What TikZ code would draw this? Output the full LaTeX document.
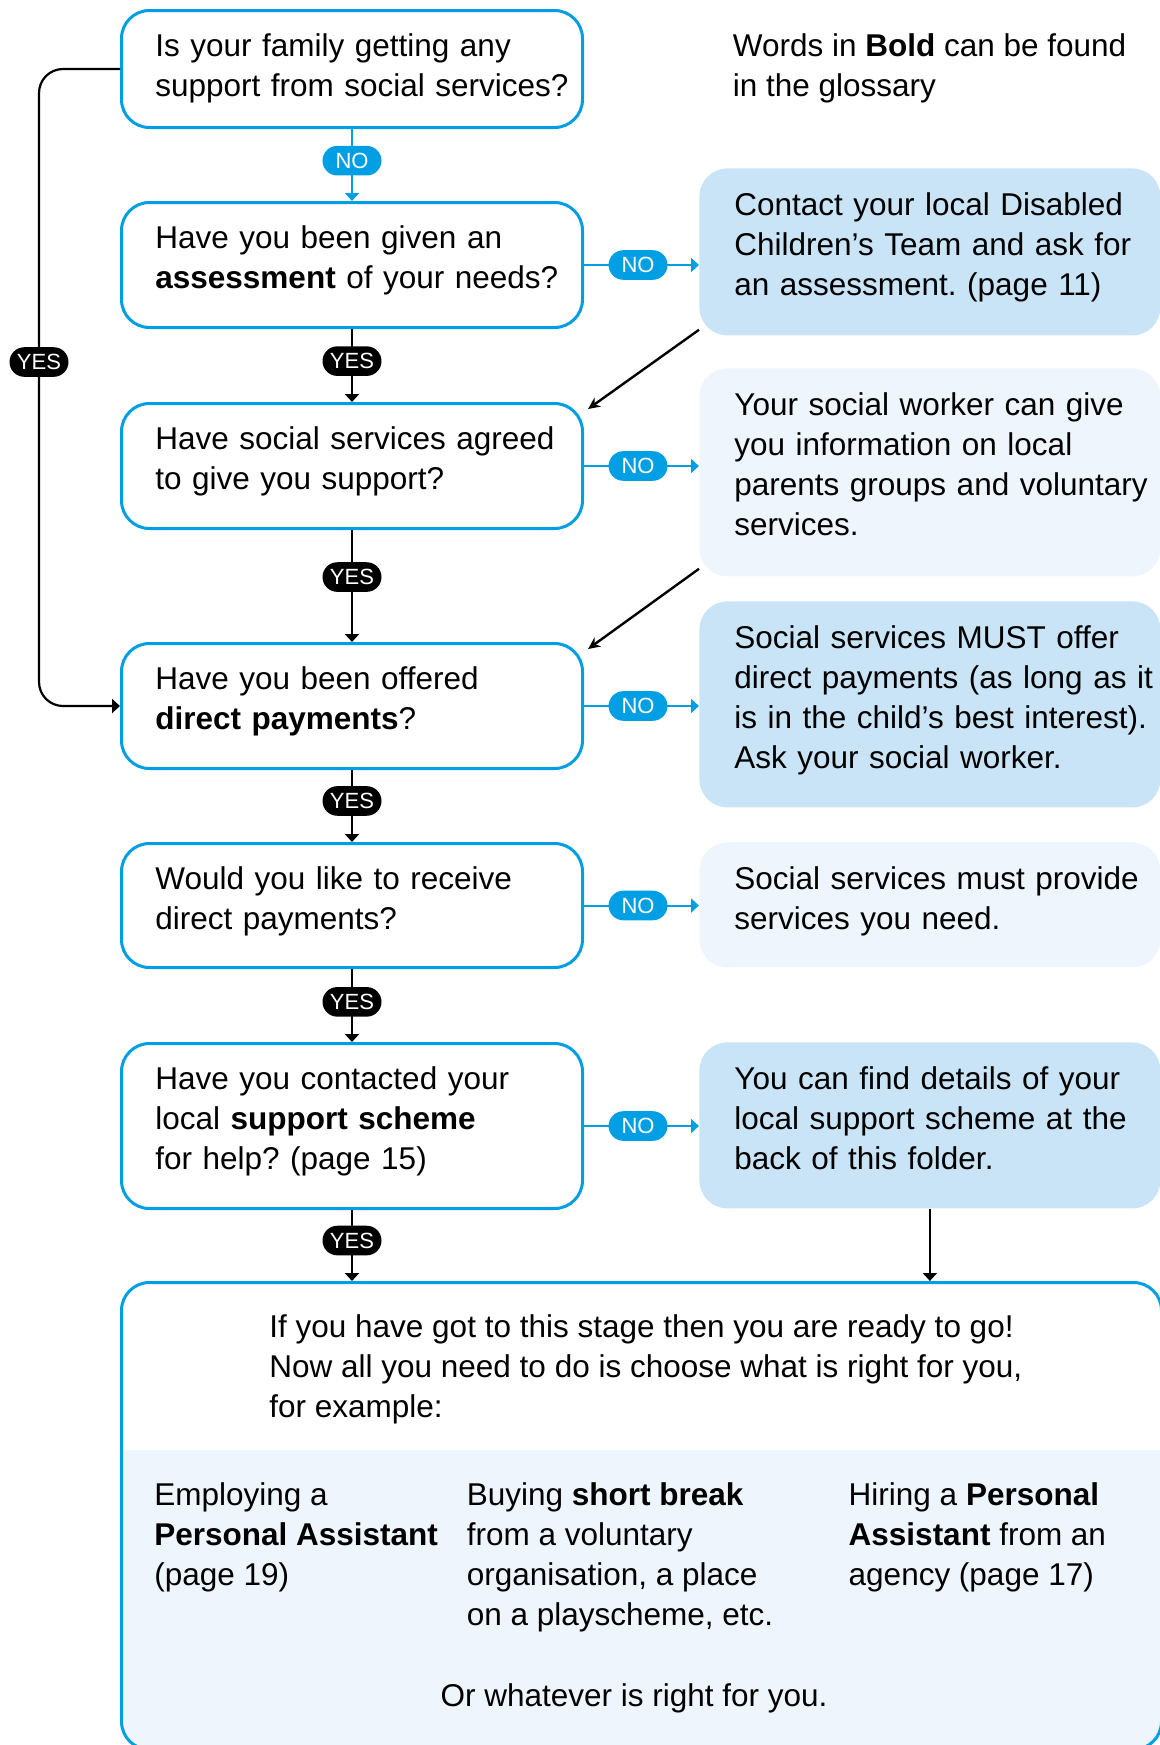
\documentclass[tikz,border=0pt]{standalone}
\usepackage{fontspec}
\setmainfont{Liberation Sans}
\usetikzlibrary{arrows.meta,calc}

\definecolor{qblue}{HTML}{009FE3}
\definecolor{deepfill}{HTML}{C9E4F6}
\definecolor{palefill}{HTML}{EEF5FC}

\frenchspacing
\newcommand{\qfont}{\fontsize{15.75}{20}\selectfont}
\newcommand{\pillfont}{\fontsize{11}{12}\selectfont}

\tikzset{
  qbox/.style={draw=qblue, line width=1.5pt, fill=white, rounded corners=14pt,
    anchor=north west, minimum width=230.5pt, inner sep=0pt},
  abox/.style={fill=#1, rounded corners=14pt, anchor=north west,
    minimum width=230.5pt, inner sep=0pt},
  boxtext/.style={anchor=north west, xshift=17.5pt, yshift=-12.15pt,
    inner sep=0pt, align=left, text width=215pt, font=\qfont},
  plaintext/.style={anchor=north west, inner sep=0pt, align=left, font=\qfont},
  nopill/.style={fill=qblue, text=white, rounded corners=7.4pt, font=\pillfont,
    minimum width=29.5pt, minimum height=14.8pt, inner sep=0pt},
  yespill/.style={nopill, fill=black},
  noline/.style={draw=qblue, line width=1pt, -{Triangle[length=4pt,width=7pt]}},
  yesline/.style={draw=black, line width=1.1pt, -{Triangle[length=4pt,width=7pt]}},
  backline/.style={draw=black, line width=1.2pt, -{Stealth[length=6pt,width=5.5pt]}},
}

\begin{document}
\begin{tikzpicture}[x=0.5pt, y=-0.5pt]
    \useasboundingbox (0,0) rectangle (1160,1745);
    \clip (0,0) rectangle (1160,1745);

    % questions down the left
    \node[qbox, minimum height=58.5pt,
      label={[boxtext]north west:{Is your family getting any\\support from social services?}}]
      (q1) at (120,9) {};
    \node[qbox, minimum height=62.5pt,
      label={[boxtext]north west:{Have you been given an\\\textbf{assessment} of your needs?}}]
      (q2) at (120,201) {};
    \node[qbox, minimum height=62.5pt,
      label={[boxtext]north west:{Have social services agreed\\to give you support?}}]
      (q3) at (120,402) {};
    \node[qbox, minimum height=62.5pt,
      label={[boxtext]north west:{Have you been offered\\\textbf{direct payments}?}}]
      (q4) at (120,642) {};
    \node[qbox, minimum height=62pt,
      label={[boxtext]north west:{Would you like to receive\\direct payments?}}]
      (q5) at (120,842) {};
    \node[qbox, minimum height=82.5pt,
      label={[boxtext]north west:{Have you contacted your\\local \textbf{support scheme}\\for help? (page 15)}}]
      (q6) at (120,1042) {};

    % answers down the right
    \node[plaintext] (gloss) at (732.5,33.3) {Words in \textbf{Bold} can be found\\in the glossary};
    \node[abox=deepfill, minimum height=83.5pt,
      label={[boxtext]north west:{Contact your local Disabled\\Children’s Team and ask for\\an assessment. (page 11)}}]
      (r1) at (699,168) {};
    \node[abox=palefill, minimum height=104pt,
      label={[boxtext]north west:{Your social worker can give\\you information on local\\parents groups and voluntary\\services.}}]
      (r2) at (699,368) {};
    \node[abox=deepfill, minimum height=103pt,
      label={[boxtext]north west:{Social services MUST offer\\direct payments (as long as it\\is in the child’s best interest).\\Ask your social worker.}}]
      (r3) at (699,601) {};
    \node[abox=palefill, minimum height=62.5pt,
      label={[boxtext]north west:{Social services must provide\\services you need.}}]
      (r4) at (699,842) {};
    \node[abox=deepfill, minimum height=83pt,
      label={[boxtext]north west:{You can find details of your\\local support scheme at the\\back of this folder.}}]
      (r5) at (699,1042) {};

    % final box
    \node[qbox, minimum width=520pt, minimum height=233.5pt,
      path picture={\fill[palefill, sharp corners] (path picture bounding box.south west)
        rectangle ([yshift=150pt]path picture bounding box.south east);}]
      (ready) at (120,1281) {};
    \node[plaintext] (intro) at (269,1314.6) {If you have got to this stage then you are ready to go!\\Now all you need to do is choose what is right for you,\\for example:};
    \node[plaintext] (optpa) at (154,1482.7) {Employing a\\\textbf{Personal Assistant}\\(page 19)};
    \node[plaintext] (optbreak) at (466.4,1482.7) {Buying \textbf{short break}\\from a voluntary\\organisation, a place\\on a playscheme, etc.};
    \node[plaintext] (optagency) at (848.3,1482.7) {Hiring a \textbf{Personal}\\\textbf{Assistant} from an\\agency (page 17)};
    \node[plaintext, anchor=north] (optother) at (634,1683) {Or whatever is right for you.};

    % no answers
    \draw[noline] (q1) -- node[nopill, pos=.44] {NO} (q2);
    \draw[noline] (q2.east) -- node[nopill, pos=.47] {NO} (q2.east -| r1.west);
    \draw[noline] (q3.east) -- node[nopill, pos=.47] {NO} (q3.east -| r2.west);
    \draw[noline] (q4.east) -- node[nopill, pos=.47] {NO} (q4.east -| r3.west);
    \draw[noline] (q5.east) -- node[nopill, pos=.47] {NO} (q5.east -| r4.west);
    \draw[noline] (q6.east) -- node[nopill, pos=.47] {NO} (q6.east -| r5.west);

    % yes answers
    \draw[yesline] (q2) -- node[yespill, pos=.44] {YES} (q3);
    \draw[yesline] (q3) -- node[yespill, pos=.42] {YES} (q4);
    \draw[yesline] (q4) -- node[yespill, pos=.43] {YES} (q5);
    \draw[yesline] (q5) -- node[yespill, pos=.45] {YES} (q6);
    \draw[yesline] (q6.south) -- node[yespill, pos=.43] {YES} (q6.south |- ready.north);
    \draw[yesline, rounded corners=12pt] (q1.west) -- ++(-81,0)
      |- node[yespill, pos=.23] {YES} (q4.west);

    % back to the flow
    \draw[backline] ($(r1.south west)+(0,-6)$) -- ($(q3.north east)+(4,7)$);
    \draw[backline] ($(r2.south west)+(0,-8)$) -- ($(q4.north east)+(4,7)$);
    \draw[yesline] (r5.south) -- (r5.south |- ready.north);
\end{tikzpicture}
\end{document}
